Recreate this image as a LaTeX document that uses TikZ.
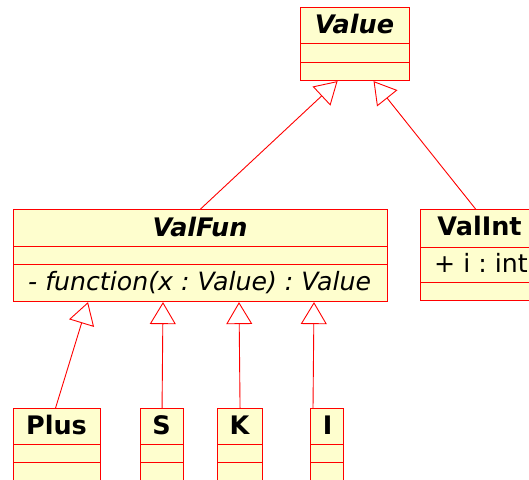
\documentclass[tikz,border=0pt]{standalone}
\usepackage{fontspec}
\setmainfont{DejaVu Sans}
\usetikzlibrary{arrows.meta,calc}
\definecolor{umlfill}{HTML}{FEFECE}
\definecolor{umlline}{HTML}{FF0000}
\begin{document}
\frenchspacing
\begin{tikzpicture}[x=1pt,y=-1pt,
  box/.style={draw=umlline,fill=umlfill,line width=1.1pt,rectangle,inner sep=0pt,anchor=north west},
  div/.style={draw=umlline,line width=0.9pt},
  title/.style={anchor=base,inner sep=0pt,font=\fontsize{25.5}{30}\selectfont\bfseries},
  member/.style={anchor=base west,inner sep=0pt,font=\fontsize{25.2}{30}\selectfont\frenchspacing},
  inh/.style={draw=umlline,line width=0.9pt,-{Triangle[open,length=22pt,width=26pt]}}]
\useasboundingbox (0,0) rectangle (529,479);
\clip (0,0) rectangle (529,479);
% boxes
\node[box,minimum width=109pt,minimum height=73pt] (value) at (300,7) {};
\node[box,minimum width=374pt,minimum height=92pt] (valfun) at (13,209) {};
\node[box,minimum width=119pt,minimum height=91pt] (valint) at (420,209) {};
\node[box,minimum width=87pt,minimum height=90pt] (plus) at (13,408) {};
\node[box,minimum width=43pt,minimum height=90pt] (s) at (140,408) {};
\node[box,minimum width=45pt,minimum height=90pt] (k) at (217,408) {};
\node[box,minimum width=33pt,minimum height=90pt] (i) at (310,408) {};
% dividers
\draw[div] (value.west |- 0,43) -- (value.east |- 0,43);
\draw[div] (value.west |- 0,62) -- (value.east |- 0,62);
\draw[div] (valfun.west |- 0,246) -- (valfun.east |- 0,246);
\draw[div] (valfun.west |- 0,264) -- (valfun.east |- 0,264);
\draw[div] (valint.west |- 0,247) -- (valint.east |- 0,247);
\draw[div] (valint.west |- 0,282) -- (valint.east |- 0,282);
\foreach \n in {plus,s,k,i}{
  \draw[div] (\n.west |- 0,444) -- (\n.east |- 0,444);
  \draw[div] (\n.west |- 0,462) -- (\n.east |- 0,462);
}
% texts
\node[title] (valuet) at (354.5,33) {\itshape Value};
\node[title] (valfunt) at (200,236) {\itshape ValFun};
\node[member] (valfunm) at (28,290) {\itshape - function(x : Value) : Value};
\node[title] (valintt) at (479.5,235) {ValInt};
\node[member] (valintm) at (434,272) {+ i : int};
\node[title] (plust) at (56.5,434) {Plus};
\node[title] (st) at (161.5,434) {S};
\node[title] (kt) at (239.5,434) {K};
\node[title] (it) at (327.5,434) {I};
% inheritance
\draw[inh] (valfun.north) -- ($(value.south)+(-17.5,0)$);
\draw[inh] ($(valint.north)+(-4.5,0)$) -- ($(value.south)+(18.5,0)$);
\draw[inh] ($(plus.north)+(-1.5,0)$) -- ($(valfun.south west)+(75,0)$);
\draw[inh] (s.north) -- ($(valfun.south west)+(150,0)$);
\draw[inh] (k.north) -- ($(valfun.south west)+(226,0)$);
\draw[inh] ($(i.north west)+(3,0)$) -- ($(valfun.south west)+(301,0)$);
\end{tikzpicture}
\end{document}
